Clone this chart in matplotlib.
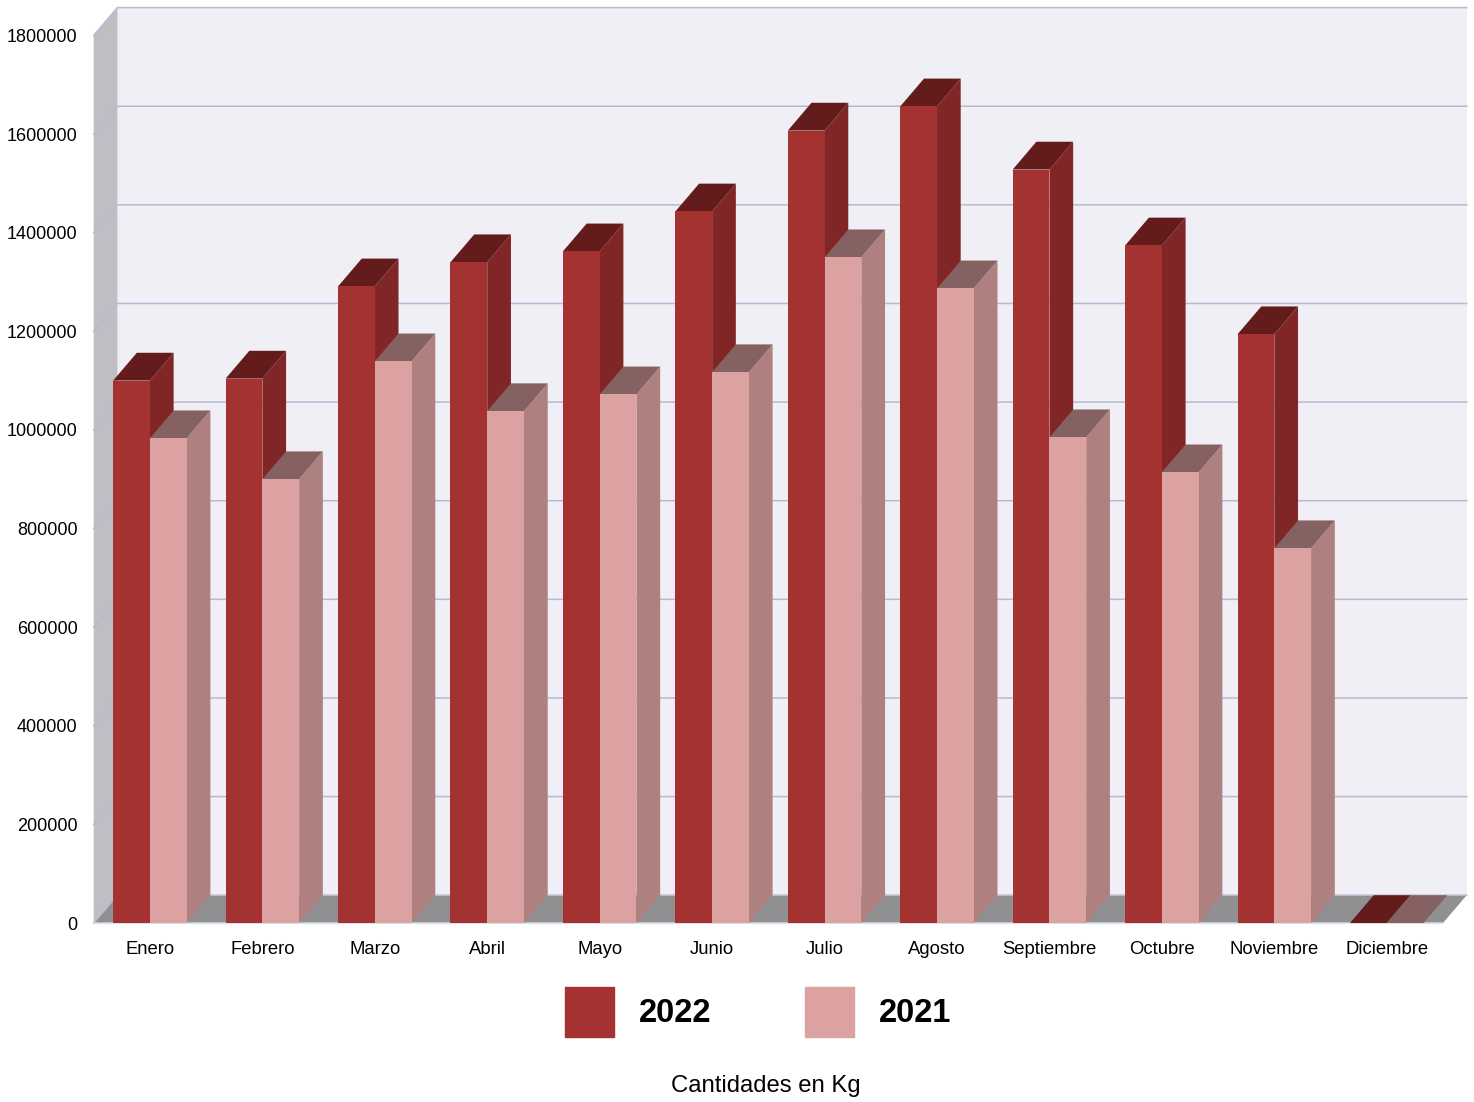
import numpy as np
import matplotlib
matplotlib.use('Agg')
import matplotlib.pyplot as plt
from matplotlib.patches import Polygon

plt.rcParams['font.family'] = ['Liberation Sans', 'DejaVu Sans']

meses = ['Enero', 'Febrero', 'Marzo', 'Abril', 'Mayo', 'Junio', 'Julio', 'Agosto',
         'Septiembre', 'Octubre', 'Noviembre', 'Diciembre']
v2022 = [1100000, 1104000, 1291000, 1340000, 1362000, 1443000, 1607000, 1656000,
         1528000, 1374000, 1194000, 0]
v2021 = [983000, 900000, 1139000, 1038000, 1072000, 1117000, 1350000, 1287000,
         985000, 914000, 760000, 0]
yticks = [0, 200000, 400000, 600000, 800000, 1000000, 1200000, 1400000, 1600000, 1800000]

W, H = 1474, 1102
fig = plt.figure(figsize=(W / 100, H / 100), dpi=100)
# axes box is the front plane of the 3d box
ax = fig.add_axes([93.7 / W, 1 - 923 / H, (1443 - 93.7) / W, (923 - 35.4) / H])
ax.set_xlim(-0.5, 11.5)
ax.set_ylim(0, 1800000)
for s in ax.spines.values():
    s.set_visible(False)
ax.patch.set_visible(False)

# depth of the box, in data units
dx = 23.7 / (1349 / 12)
dy = 27.8 * 1800000 / 887.6
bw = 0.327


def poly(pts, color, z, edge='none', lw=0):
    ax.add_patch(Polygon(pts, closed=True, facecolor=color, edgecolor=edge, linewidth=lw,
                         zorder=z, clip_on=False))


x0, x1 = -0.5, 11.5
ymax = yticks[-1]
poly([(x0 + dx, dy), (x1 + dx, dy), (x1 + dx, ymax + dy), (x0 + dx, ymax + dy)], '#efeff5', 1)
poly([(x0, 0), (x0 + dx, dy), (x0 + dx, ymax + dy), (x0, ymax)], '#bebec4', 1)
poly([(x0, 0), (x1, 0), (x1 + dx, dy), (x0 + dx, dy)], '#909092', 1)

# grid on the back wall and on the side wall
for t in yticks:
    ax.plot([x0, x0 + dx, x1 + dx], [t, t + dy, t + dy], color='#b9b9d3', lw=1.1, zorder=2,
            clip_on=False, solid_joinstyle='miter')
ax.plot([x0, x1], [0, 0], color='#d5d5e2', lw=1.1, zorder=2, clip_on=False)

z = 3
for i in range(len(meses)):
    for off, v, front, side, top in [(-bw, v2022[i], '#a33230', '#802626', '#641b1b'),
                                     (0, v2021[i], '#dca2a2', '#ae8080', '#856161')]:
        l, r = i + off, i + off + bw
        poly([(r, 0), (r + dx, dy), (r + dx, v + dy), (r, v)], side, z)
        poly([(l, v), (r, v), (r + dx, v + dy), (l + dx, v + dy)], top, z)
        z += 1
        ax.bar(l, v, width=bw, align='edge', color=front, zorder=z)
        z += 1

ax.set_xticks(range(len(meses)))
ax.set_xticklabels(meses, fontsize=13.3)
ax.set_yticks(yticks)
ax.set_yticklabels([str(t) for t in yticks], fontsize=13)
ax.tick_params(axis='x', length=0, pad=13)
ax.tick_params(axis='y', length=0, pad=11.5)

h1 = plt.Rectangle((0, 0), 1, 1, color='#a33230')
h2 = plt.Rectangle((0, 0), 1, 1, color='#dca2a2')
leg = fig.legend([h1, h2], ['2022', '2021'], ncol=2, loc='center',
                 bbox_to_anchor=(758 / W, 1 - 1012 / H), frameon=False,
                 prop={'size': 23.5, 'weight': 'bold'}, handlelength=1.5, handleheight=1.95,
                 handletextpad=0.76, columnspacing=2.87, borderpad=0, borderaxespad=0)

fig.text(766 / W, 1 - 1086 / H, 'Cantidades en Kg', fontsize=17.2, ha='center', va='center')

fig.savefig('out.png', dpi=100)
